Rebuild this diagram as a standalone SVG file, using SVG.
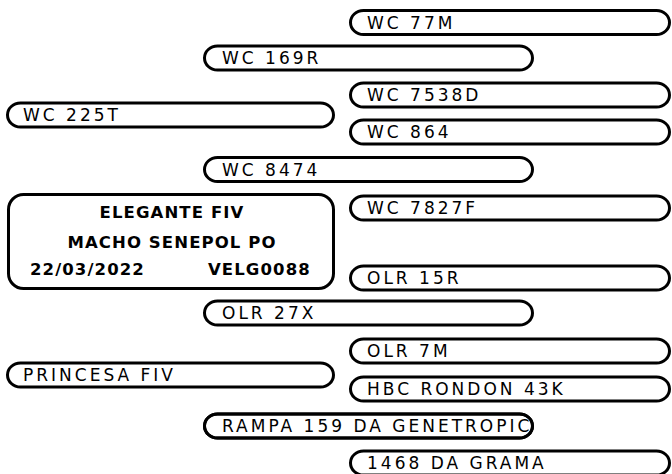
<svg xmlns="http://www.w3.org/2000/svg" width="672" height="474" viewBox="0 0 672 474">
<style>
.pill{fill:#fff;stroke:#000;stroke-width:3}
.lbl{font-family:"DejaVu Sans",Verdana,sans-serif;font-size:17px;letter-spacing:3px;fill:#000}
.b{font-family:"DejaVu Sans",Verdana,sans-serif;font-size:16.5px;font-weight:bold;letter-spacing:1.1px;fill:#000}
</style>
<defs>
<clipPath id="clipRampa"><rect x="206" y="415" width="325" height="22" rx="12" ry="11"/></clipPath>
</defs>
<rect width="672" height="474" fill="#fff"/>
<g id="connectors"/>
<g id="n-wc77m"><rect class="pill" x="350.5" y="10.5" width="319" height="24" rx="13" ry="12"/><text class="lbl" x="367" y="28.5">WC 77M</text></g>
<g id="n-wc169r"><rect class="pill" x="204.5" y="46" width="328" height="24" rx="13" ry="12"/><text class="lbl" x="222" y="64">WC 169R</text></g>
<g id="n-wc7538d"><rect class="pill" x="350.5" y="83" width="319" height="24" rx="13" ry="12"/><text class="lbl" x="367" y="101">WC 7538D</text></g>
<g id="n-wc225t"><rect class="pill" x="7.5" y="103" width="326" height="24" rx="13" ry="12"/><text class="lbl" x="23" y="121">WC 225T</text></g>
<g id="n-wc864"><rect class="pill" x="350.5" y="120" width="319" height="24" rx="13" ry="12"/><text class="lbl" x="367" y="138">WC 864</text></g>
<g id="n-wc8474"><rect class="pill" x="204.5" y="157.5" width="328" height="24" rx="13" ry="12"/><text class="lbl" x="222" y="175.5">WC 8474</text></g>
<g id="n-elegante"><rect class="pill" x="8.5" y="194.5" width="325" height="94" rx="15" ry="15"/>
<text class="b" x="172" y="218" text-anchor="middle">ELEGANTE FIV</text>
<text class="b" x="172" y="248" text-anchor="middle">MACHO SENEPOL PO</text>
<text class="b" x="30" y="275">22/03/2022</text>
<text class="b" x="208" y="275">VELG0088</text></g>
<g id="n-wc7827f"><rect class="pill" x="350.5" y="196" width="319" height="24" rx="13" ry="12"/><text class="lbl" x="367" y="214">WC 7827F</text></g>
<g id="n-olr15r"><rect class="pill" x="350.5" y="266" width="319" height="24" rx="13" ry="12"/><text class="lbl" x="367" y="284">OLR 15R</text></g>
<g id="n-olr27x"><rect class="pill" x="204.5" y="301" width="328" height="24" rx="13" ry="12"/><text class="lbl" x="222" y="319">OLR 27X</text></g>
<g id="n-olr7m"><rect class="pill" x="350.5" y="339" width="319" height="24" rx="13" ry="12"/><text class="lbl" x="367" y="357">OLR 7M</text></g>
<g id="n-princesa"><rect class="pill" x="7.5" y="363" width="326" height="24" rx="13" ry="12"/><text class="lbl" x="23" y="381">PRINCESA FIV</text></g>
<g id="n-hbc"><rect class="pill" x="350.5" y="377" width="319" height="24" rx="13" ry="12"/><text class="lbl" x="367" y="395">HBC RONDON 43K</text></g>
<g id="n-rampa"><rect class="pill" x="204.5" y="414" width="328" height="24" rx="13" ry="12"/><text class="lbl" x="222" y="432" clip-path="url(#clipRampa)">RAMPA 159 DA GENETROPIC</text><rect x="204.5" y="414" width="328" height="24" rx="13" ry="12" fill="none" stroke="#000" stroke-width="3"/></g>
<g id="n-1468"><rect class="pill" x="350.5" y="451" width="319" height="24" rx="13" ry="12"/><text class="lbl" x="367" y="469">1468 DA GRAMA</text></g>
</svg>
